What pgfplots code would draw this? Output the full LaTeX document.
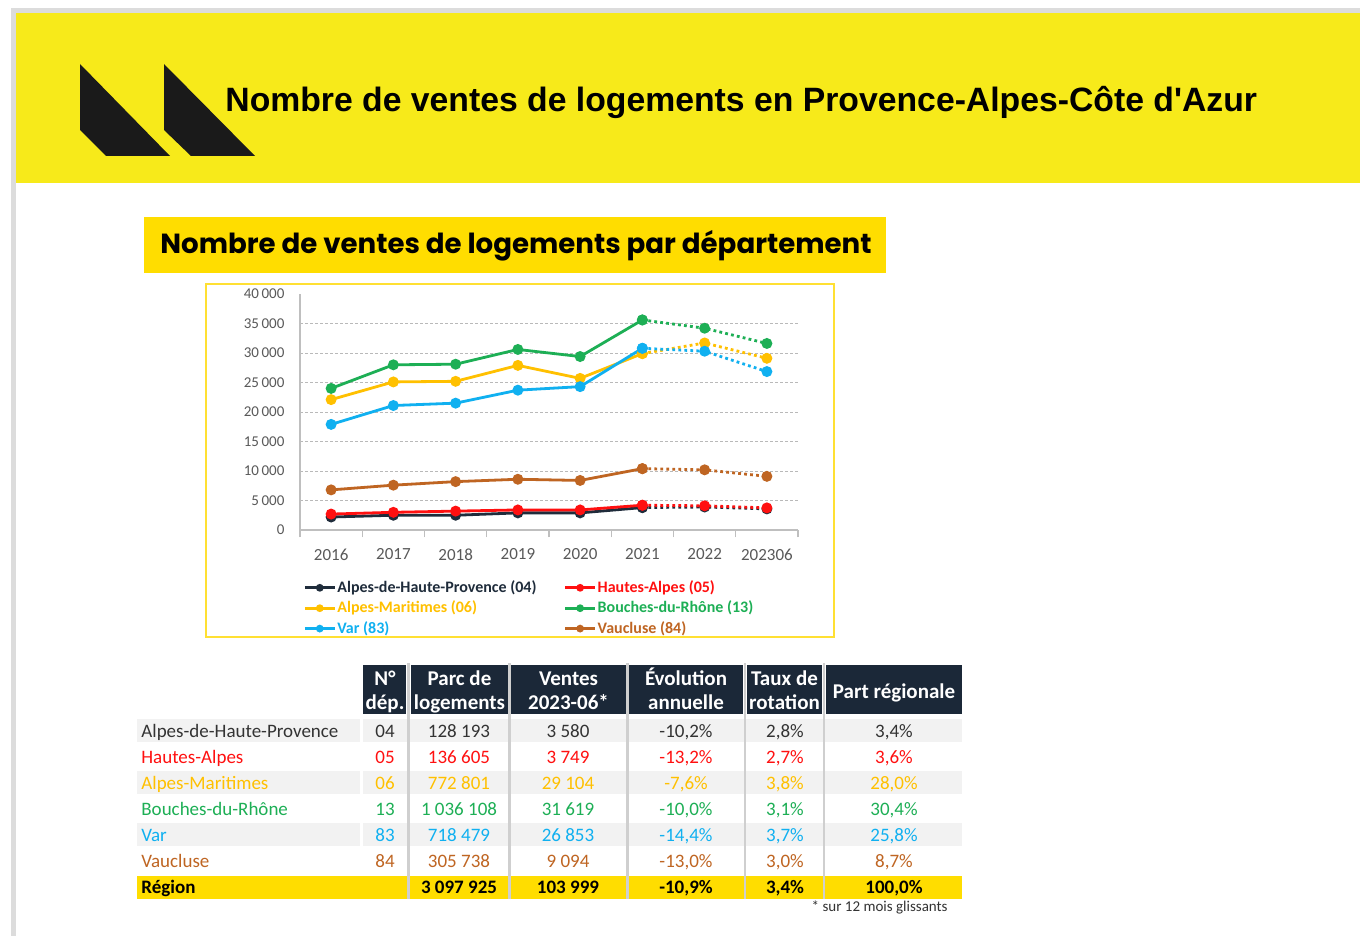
\documentclass[border=0pt]{standalone}
\usepackage{fontspec}
\setmainfont{Carlito}
\newfontfamily\lib{Liberation Sans}
\newfontfamily\pop{Poppins}
\usepackage{pgfplots}
\pgfplotsset{compat=1.18}
\definecolor{bannerY}{HTML}{F7EA1A}
\definecolor{subY}{HTML}{FFDD00}
\definecolor{frameY}{HTML}{FFE033}
\definecolor{regY}{HTML}{FFDD00}
\definecolor{hdr}{HTML}{1B2838}
\definecolor{rowG}{HTML}{F2F2F2}
\definecolor{sepG}{HTML}{CFCFCF}
\definecolor{edgeG}{HTML}{DCDCDC}
\definecolor{logoK}{HTML}{1A1A1A}
\definecolor{c04}{HTML}{1F2C3B}
\definecolor{c05}{HTML}{FF1010}
\definecolor{c06}{HTML}{FFC000}
\definecolor{c13}{HTML}{1DAF55}
\definecolor{c83}{HTML}{10B0F0}
\definecolor{c84}{HTML}{BF6522}
\definecolor{t04}{HTML}{333333}
\definecolor{axisG}{HTML}{BFBFBF}
\definecolor{lblG}{HTML}{595959}
\newcommand{\fs}[1]{\fontsize{#1}{#1}\selectfont}
\newcommand{\trow}[9]{%
 \node[anchor=base west,text=#2] at (141,#1) {#3};
 \node[anchor=base,text=#2] at (385,#1) {#4};
 \node[anchor=base,text=#2] at (459,#1) {#5};
 \node[anchor=base,text=#2] at (568,#1) {#6};
 \node[anchor=base,text=#2] at (686,#1) {#7};
 \node[anchor=base,text=#2] at (785,#1) {#8};
 \node[anchor=base,text=#2] at (894,#1) {#9};}
\pgfplotsset{ser/.style={color=#1, line width=1.4pt, mark=*, mark size=2pt, mark options={solid, fill=#1}},
  dot/.style={ser=#1, dash pattern=on 1.4pt off 1.6pt, forget plot}}
\begin{document}
\begin{tikzpicture}
\begin{scope}[x=0.5pt,y=-0.5pt, every node/.style={inner sep=0pt}]
\path[use as bounding box] (0,0) rectangle (1360,936);
\fill[white] (0,0) rectangle (1360,936);
\fill[edgeG] (11,8) rectangle (1360,13);
\fill[edgeG] (11,8) rectangle (16,936);
\fill[bannerY] (16,13) rectangle (1360,183);
\fill[logoK] (80,64) -- (80,130) -- (106,156) -- (170,156) -- cycle;
\fill[logoK] (164,64) -- (164,130) -- (191,156) -- (255,156) -- cycle;
\node[anchor=base west, font=\lib\bfseries\fs{16.87}] at (225,112) {Nombre de ventes de logements en Provence-Alpes-Côte d'Azur};
\fill[subY] (144,217) rectangle (886,273);
\node[anchor=base west, font=\pop\bfseries\fs{13.83}] at (160,254) {Nombre de ventes de logements par département};
\draw[frameY, line width=1.25pt] (206,284) rectangle (834,637);
% table backgrounds
\foreach \ya/\yb in {719/742, 771/794, 823/846} {
  \fill[rowG] (137,\ya) rectangle (360,\yb);
  \fill[rowG] (363,\ya) rectangle (962,\yb);
}
\fill[regY] (137,876) rectangle (962,899);
\foreach \x in {408.5,509.5,627.5,745,824} \draw[sepG, line width=1.2pt] (\x,663) -- (\x,899);
\fill[hdr] (363,665) rectangle (406,714);
\fill[hdr] (411,665) rectangle (508,714);
\fill[hdr] (511,665) rectangle (626,714);
\fill[hdr] (629,665) rectangle (743,714);
\fill[hdr] (747,665) rectangle (822,714);
\fill[hdr] (826,665) rectangle (962,714);
\begin{scope}[font=\bfseries\fs{10.5}, text=white]
\node[anchor=base] at (385,685) {N°};
\node[anchor=base] at (385,709) {dép.};
\node[anchor=base] at (459.5,685) {Parc de};
\node[anchor=base] at (459.5,709) {logements};
\node[anchor=base] at (568.5,685) {Ventes};
\node[anchor=base] at (568.5,709) {2023-06*};
\node[anchor=base] at (686,685) {Évolution};
\node[anchor=base] at (686,709) {annuelle};
\node[anchor=base] at (784.5,685) {Taux de};
\node[anchor=base] at (784.5,709) {rotation};
\node[anchor=base] at (894,698) {Part régionale};
\end{scope}
\begin{scope}[font=\fs{9.5}]
\trow{737}{t04}{Alpes-de-Haute-Provence}{04}{128 193}{3 580}{-10,2\%}{2,8\%}{3,4\%}
\trow{763}{c05}{Hautes-Alpes}{05}{136 605}{3 749}{-13,2\%}{2,7\%}{3,6\%}
\trow{789}{c06}{Alpes-Maritimes}{06}{772 801}{29 104}{-7,6\%}{3,8\%}{28,0\%}
\trow{815}{c13}{Bouches-du-Rhône}{13}{1 036 108}{31 619}{-10,0\%}{3,1\%}{30,4\%}
\trow{841}{c83}{Var}{83}{718 479}{26 853}{-14,4\%}{3,7\%}{25,8\%}
\trow{867}{c84}{Vaucluse}{84}{305 738}{9 094}{-13,0\%}{3,0\%}{8,7\%}
\end{scope}
\begin{scope}[font=\bfseries\fs{9.5}]
\trow{893}{black}{Région}{}{3 097 925}{103 999}{-10,9\%}{3,4\%}{100,0\%}
\end{scope}
\node[anchor=base east, font=\fs{7.5}, text=t04] at (948,911) {* sur 12 mois glissants};
\end{scope}

\begin{axis}[
  at={(150pt,-265pt)}, anchor=south west,
  scale only axis, width=249pt, height=118pt,
  xmin=-0.5, xmax=7.5, ymin=0, ymax=40000,
  axis x line=bottom, axis y line=left,
  axis line style={-, draw=axisG, line width=0.6pt},
  xtick={0,...,7},
  xticklabels={2016,2017,2018,2019,2020,2021,2022,202306},
  major x tick style={draw=none},
  minor xtick={-0.5,0.5,...,7.5},
  minor x tick style={draw=axisG, line width=0.6pt},
  minor tick length=3.5pt,
  tick align=outside,
  ytick={0,5000,...,35000},
  extra y ticks={40000},
  extra y tick style={grid=none},
  scaled y ticks=false,
  ymajorgrids,
  major y grid style={draw=gray!55, dash pattern=on 1.5pt off 1pt, line width=0.5pt},
  ytick style={draw=none},
  tick label style={text=lblG},
  yticklabel style={font=\fs{7.5}},
  xticklabel style={font=\fs{8.5}, yshift=-1.5pt},
  /pgf/number format/1000 sep={\,},
  /pgf/number format/assume math mode=true,
  clip=false,
  legend columns=2,
  legend cell align=left,
  legend style={at={(0.006,-0.2)}, anchor=north west, draw=none, fill=none, inner sep=0pt,
    font=\bfseries\fs{8}, nodes={inner sep=0.6pt, text height=6.8pt, text depth=2.2pt},
    /tikz/every even column/.append style={column sep=13pt}},
  legend image code/.code={\draw[mark repeat=2,mark phase=2,mark size=1.2pt] plot coordinates {(0pt,0pt)(7.5pt,0pt)(15pt,0pt)};},
]
\addplot[ser=c04] coordinates {(0,2200)(1,2500)(2,2500)(3,2900)(4,2900)(5,3800)};
\addlegendentry{\textcolor{c04}{Alpes-de-Haute-Provence (04)}}
\addplot[dot=c04] coordinates {(5,3800)(6,3900)(7,3580)};
\addplot[ser=c05] coordinates {(0,2700)(1,3000)(2,3200)(3,3400)(4,3400)(5,4200)};
\addlegendentry{\textcolor{c05}{Hautes-Alpes (05)}}
\addplot[dot=c05] coordinates {(5,4200)(6,4100)(7,3749)};
\addplot[ser=c06] coordinates {(0,22100)(1,25100)(2,25200)(3,27900)(4,25700)(5,29900)};
\addlegendentry{\textcolor{c06}{Alpes-Maritimes (06)}}
\addplot[dot=c06] coordinates {(5,29900)(6,31700)(7,29104)};
\addplot[ser=c13] coordinates {(0,24000)(1,28000)(2,28100)(3,30600)(4,29400)(5,35600)};
\addlegendentry{\textcolor{c13}{Bouches-du-Rhône (13)}}
\addplot[dot=c13] coordinates {(5,35600)(6,34200)(7,31619)};
\addplot[ser=c83] coordinates {(0,17900)(1,21100)(2,21500)(3,23700)(4,24300)(5,30800)};
\addlegendentry{\textcolor{c83}{Var (83)}}
\addplot[dot=c83] coordinates {(5,30800)(6,30300)(7,26853)};
\addplot[ser=c84] coordinates {(0,6800)(1,7600)(2,8200)(3,8600)(4,8400)(5,10400)};
\addlegendentry{\textcolor{c84}{Vaucluse (84)}}
\addplot[dot=c84] coordinates {(5,10400)(6,10200)(7,9094)};
\end{axis}
\end{tikzpicture}
\end{document}
